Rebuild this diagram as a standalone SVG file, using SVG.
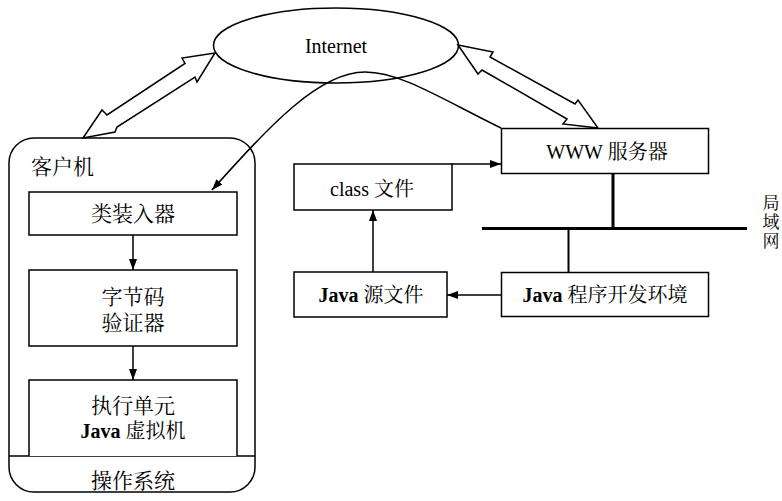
<svg xmlns="http://www.w3.org/2000/svg" width="782" height="501" viewBox="0 0 782 501">
<style>
.b{fill:#fff;stroke:#000;stroke-width:1.5}
.l{fill:none;stroke:#000;stroke-width:1.5}
.t{font-family:"Liberation Serif","Noto Serif CJK SC","Noto Sans CJK SC",serif;font-size:20px;fill:#000;text-anchor:middle}
.c{font-size:21px}
.j{font-weight:bold}
.v{font-size:17px}
</style>
<defs>
<marker id="ah" markerWidth="11" markerHeight="8" refX="11" refY="4" orient="auto" markerUnits="userSpaceOnUse"><path d="M0,0 L11,4 L0,8 z" fill="#000"/></marker>
</defs>
<rect width="782" height="501" fill="#fff"/>
<g id="internet">
<ellipse cx="336" cy="45.5" rx="122.5" ry="37.5" class="b"/>
<text class="t" x="336" y="53">Internet</text>
</g>
<g id="client">
<rect x="9" y="138" width="246" height="354" rx="25" class="b"/>
<line x1="9" y1="456" x2="255" y2="456" class="l"/>
<text class="t c" x="31" y="174" style="text-anchor:start">客户机</text>
<text class="t c" x="133" y="488">操作系统</text>
</g>
<g id="loader">
<rect x="29" y="192" width="208" height="43" class="b"/>
<text class="t c" x="133" y="221">类装入器</text>
</g>
<g id="verifier">
<rect x="29" y="270" width="208" height="76" class="b"/>
<text class="t c" x="133" y="304">字节码</text>
<text class="t c" x="133" y="330">验证器</text>
</g>
<g id="jvm">
<path d="M29,456 V380 H237 V456" class="b"/>
<text class="t c" x="133" y="413">执行单元</text>
<text class="t" x="133" y="438"><tspan class="j">Java</tspan> 虚拟机</text>
</g>
<g id="www">
<rect x="501.5" y="128.5" width="207" height="45" class="b"/>
<text class="t" x="607" y="159">WWW 服务器</text>
</g>
<g id="classfile">
<rect x="294" y="164" width="158" height="46" class="b"/>
<text class="t" x="372" y="196">class 文件</text>
</g>
<g id="javasrc">
<rect x="294" y="272" width="153" height="45" class="b"/>
<text class="t" x="371" y="302"><tspan class="j">Java</tspan> 源文件</text>
</g>
<g id="devenv">
<rect x="501.5" y="272.5" width="207" height="44" class="b"/>
<text class="t" x="605" y="302"><tspan class="j">Java</tspan> 程序开发环境</text>
</g>
<g id="lan">
<line x1="482" y1="228.5" x2="747" y2="228.5" stroke="#000" stroke-width="3"/>
<text class="t v" x="771" y="209">局</text>
<text class="t v" x="771" y="228">域</text>
<text class="t v" x="771" y="247">网</text>
</g>
<g id="connectors">
<path d="M215,53 L182,58 L185,63.5 L107,115 L102,110 L83,138 L115,132 L117,127 L195,77 L197,82 Z" class="b"/>
<path d="M458,45 L493,52 L490,57 L575,104 L578,100 L598,128 L563,124 L567,119 L482,70 L478,74 Z" class="b"/>
<path d="M501,128 C440,98 400,72 365,72 C318,72 268,128 212,190" class="l" marker-end="url(#ah)"/>
<line x1="133" y1="235" x2="133" y2="270" class="l" marker-end="url(#ah)"/>
<line x1="133" y1="346" x2="133" y2="380" class="l" marker-end="url(#ah)"/>
<line x1="452" y1="164" x2="501" y2="164" class="l" marker-end="url(#ah)"/>
<line x1="373" y1="272" x2="373" y2="210" class="l" marker-end="url(#ah)"/>
<line x1="501" y1="295" x2="447" y2="295" class="l" marker-end="url(#ah)"/>
<line x1="613" y1="173.5" x2="613" y2="228" stroke="#000" stroke-width="3"/>
<line x1="568.5" y1="228" x2="568.5" y2="272.5" stroke="#000" stroke-width="2"/>
</g>
</svg>
